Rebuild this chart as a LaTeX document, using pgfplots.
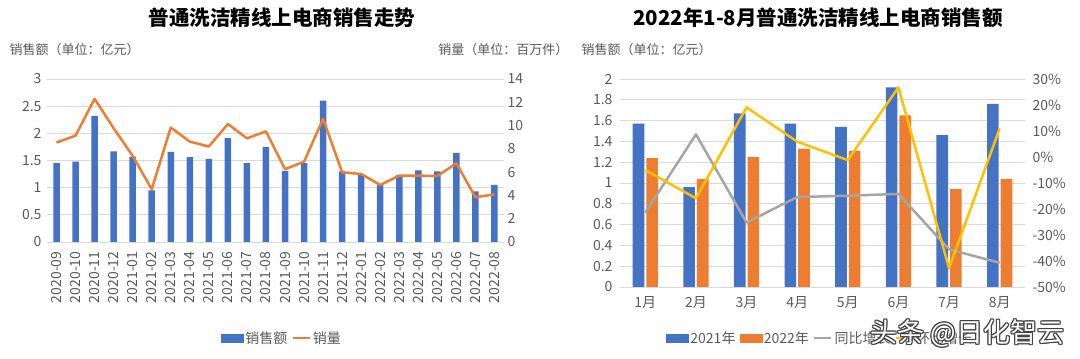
\documentclass[border=0pt]{standalone}
\usepackage{fontspec}
\setmainfont{Noto Sans CJK SC}
\usepackage{pgfplots}
\pgfplotsset{compat=1.18}
\definecolor{cblue}{HTML}{4472C4}
\definecolor{corange}{HTML}{ED7D31}
\definecolor{cgray}{HTML}{A5A5A5}
\definecolor{cyellow}{HTML}{FFC000}
\definecolor{txtgray}{HTML}{595959}
\definecolor{gridgray}{HTML}{D9D9D9}
\pgfplotsset{
  common/.style={
    scale only axis,
    /pgf/number format/assume math mode=true,
    tick label style={font=\fontsize{14}{16}\selectfont, text=txtgray},
    major tick length=0pt,
    axis line style={draw=none},
  },
}
\begin{document}
\begin{tikzpicture}[x=1pt,y=1pt]
\useasboundingbox (0,0) rectangle (1080,359);
% titles
\node[font=\fontsize{20.5}{24}\selectfont\bfseries] at (282,341) {普通洗洁精线上电商销售走势};
\node[font=\fontsize{20.5}{24}\selectfont\bfseries] at (818,341) {2022年1-8月普通洗洁精线上电商销售额};
\node[font=\fontsize{13}{15}\selectfont, text=txtgray, anchor=west] at (6,309) {销售额（单位：亿元）};
\node[font=\fontsize{13}{15}\selectfont, text=txtgray, anchor=east] at (572,309) {销量（单位：百万件）};
\node[font=\fontsize{13}{15}\selectfont, text=txtgray, anchor=west] at (578,309) {销售额（单位：亿元）};

% ---------- left chart ----------
\begin{axis}[common,
  at={(47pt,117pt)}, anchor=south west, width=457pt, height=163pt,
  xmin=-0.5, xmax=23.5, ymin=0, ymax=3,
  ytick={0,0.5,1,1.5,2,2.5,3},
  ymajorgrids, grid style={gridgray, line width=0.8pt},
  xtick={0,...,23},
  xticklabels={2020-09,2020-10,2020-11,2020-12,2021-01,2021-02,2021-03,2021-04,2021-05,2021-06,2021-07,2021-08,2021-09,2021-10,2021-11,2021-12,2022-01,2022-02,2022-03,2022-04,2022-05,2022-06,2022-07,2022-08},
  x tick label style={rotate=90, anchor=east},
  xticklabel shift=6pt,
  yticklabel style={xshift=-2pt},
  ybar, bar width=6.5pt,
]
\addplot[fill=cblue, draw=none] coordinates {
(0,1.45)(1,1.48)(2,2.32)(3,1.67)(4,1.57)(5,0.95)(6,1.66)(7,1.56)(8,1.53)(9,1.91)(10,1.45)(11,1.75)(12,1.31)(13,1.45)(14,2.60)(15,1.30)(16,1.25)(17,1.06)(18,1.23)(19,1.32)(20,1.30)(21,1.64)(22,0.93)(23,1.05)};
\end{axis}
\begin{axis}[common,
  at={(47pt,117pt)}, anchor=south west, width=457pt, height=163pt,
  xmin=-0.5, xmax=23.5, ymin=0, ymax=14,
  ytick={0,2,...,14}, xtick=\empty,
  axis y line*=right, y axis line style={draw=none},
  legend style={at={(0.514,-0.589)}, anchor=center, draw=none, fill=none,
    legend columns=-1, font=\fontsize{14}{16}\selectfont, text=txtgray,
    /tikz/every even column/.append style={column sep=2pt}},
]
\addlegendimage{legend image code/.code={\fill[cblue] (0pt,-4pt) rectangle (22pt,4pt);}}
\addlegendentry{销售额}
\addplot[corange, line width=2.5pt, line join=round, mark=none] coordinates {
(0,8.54)(1,9.14)(2,12.3)(3,9.77)(4,7.4)(5,4.53)(6,9.83)(7,8.62)(8,8.2)(9,10.14)(10,8.9)(11,9.5)(12,6.25)(13,6.9)(14,10.57)(15,5.99)(16,5.84)(17,4.9)(18,5.7)(19,5.7)(20,5.67)(21,6.76)(22,3.84)(23,4.1)};
\addlegendentry{销量}
\end{axis}
\draw[gridgray, line width=0.8pt] (47,117) -- (504,117);

% ---------- right chart ----------
\begin{axis}[common,
  at={(620pt,72pt)}, anchor=south west, width=405pt, height=208pt,
  xmin=-0.5, xmax=7.5, ymin=0, ymax=2,
  ytick={0,0.2,0.4,0.6,0.8,1,1.2,1.4,1.6,1.8,2},
  yticklabels={0,0.2,0.4,0.6,0.8,1,1.2,1.4,1.6,1.8,2},
  ymajorgrids, grid style={gridgray, line width=0.8pt},
  xtick={0,...,7},
  xticklabels={1月,2月,3月,4月,5月,6月,7月,8月},
  x tick label style={yshift=-6pt},
  yticklabel style={xshift=-4pt},
  ybar, bar width=11.7pt,
]
\addplot[fill=cblue, draw=none, bar shift=-6.8pt] coordinates {
(0,1.57)(1,0.96)(2,1.67)(3,1.57)(4,1.54)(5,1.92)(6,1.46)(7,1.76)};
\addplot[fill=corange, draw=none, bar shift=6.8pt] coordinates {
(0,1.24)(1,1.04)(2,1.25)(3,1.33)(4,1.31)(5,1.65)(6,0.94)(7,1.04)};
\end{axis}
\begin{axis}[common,
  at={(620pt,72pt)}, anchor=south west, width=405pt, height=208pt,
  xmin=-0.5, xmax=7.5, ymin=-50, ymax=30,
  ytick={-50,-40,-30,-20,-10,0,10,20,30},
  yticklabels={-50\%,-40\%,-30\%,-20\%,-10\%,0\%,10\%,20\%,30\%},
  xtick=\empty,
  axis y line*=right, y axis line style={draw=none},
  yticklabel style={xshift=4pt},
  legend style={at={(0.494,-0.245)}, anchor=center, draw=none, fill=none,
    legend columns=-1, font=\fontsize{14}{16}\selectfont, text=txtgray,
    /tikz/every even column/.append style={column sep=2pt}},
]
\addlegendimage{legend image code/.code={\fill[cblue] (0pt,-4pt) rectangle (22pt,4pt);}}
\addlegendentry{2021年}
\addlegendimage{legend image code/.code={\fill[corange] (0pt,-4pt) rectangle (22pt,4pt);}}
\addlegendentry{2022年}
\addplot[cgray, line width=2.5pt, line join=round, mark=none] coordinates {
(0,-21.4)(1,8.7)(2,-25.2)(3,-15.4)(4,-14.9)(5,-14.2)(6,-35.5)(7,-40.7)};
\addlegendentry{同比增长}
\addplot[cyellow, line width=2.5pt, line join=round, mark=none] coordinates {
(0,-5)(1,-15.9)(2,19.1)(3,5.9)(4,-1.2)(5,26.8)(6,-42.8)(7,11)};
\addlegendentry{环比增长}
\end{axis}
\draw[gridgray, line width=0.8pt] (620,72) -- (1025,72);

% watermark
\foreach \dx/\dy in {-1/0,1/0,0/-1,0/1,1/-1,-1/1,1/1,-1/-1}{
  \node[font=\fontsize{27}{30}\selectfont, text=black!75, anchor=east] at (1068+\dx,26+\dy) {头条 @日化智云};
}
\node[font=\fontsize{27}{30}\selectfont, text=white, anchor=east] at (1068,26) {头条 @日化智云};
\end{tikzpicture}
\end{document}
